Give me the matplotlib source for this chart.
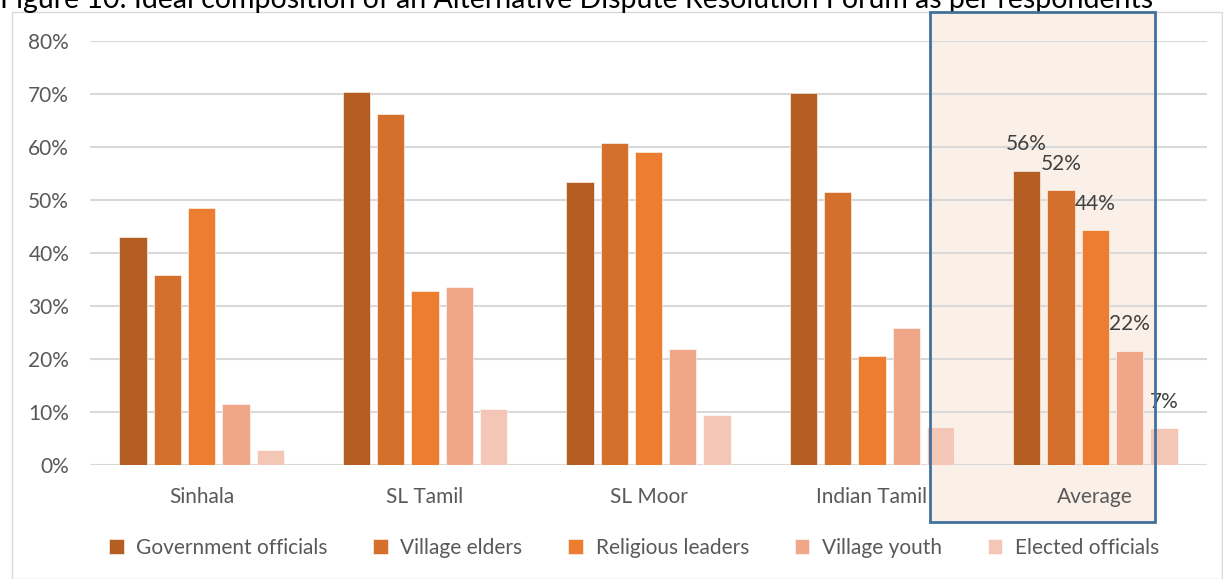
import matplotlib
matplotlib.use("Agg")
import matplotlib.pyplot as plt
import numpy as np
from matplotlib.patches import Rectangle

# data (share of respondents)
groups = ["Sinhala", "SL Tamil", "SL Moor", "Indian Tamil", "Average"]
series = ["Government officials", "Village elders", "Religious leaders",
          "Village youth", "Elected officials"]
gov_officials = [0.431, 0.704, 0.534, 0.702, 0.555]
village_elders = [0.358, 0.663, 0.608, 0.515, 0.518]
religious_leaders = [0.484, 0.329, 0.591, 0.206, 0.443]
village_youth = [0.116, 0.335, 0.219, 0.258, 0.215]
elected_officials = [0.029, 0.105, 0.094, 0.072, 0.069]
avg_labels = ["56%", "52%", "44%", "22%", "7%"]
yticks = [0, 0.1, 0.2, 0.3, 0.4, 0.5, 0.6, 0.7, 0.8]

values = [gov_officials, village_elders, religious_leaders, village_youth, elected_officials]
colors = ["#B55E23", "#D4702B", "#ED7D31", "#F0A688", "#F4C6B5"]
GREY = "#595959"
FONT = "Lato"
FS = 15

W, H = 1223, 579
fig = plt.figure(figsize=(W / 100, H / 100), dpi=100)
plt.rcParams["font.family"] = [FONT, "DejaVu Sans"]

# chart-area border
fig.patches.append(Rectangle((12 / W, 0), (W - 13) / W, 1 - 12 / H, transform=fig.transFigure,
                             fill=False, edgecolor="#D9D9D9", lw=1, zorder=-2))
# highlight box behind the "Average" group
bx0, bx1, by0, by1 = 930, 1155, 12, 522
fig.patches.append(Rectangle((bx0 / W, 1 - by1 / H), (bx1 - bx0) / W, (by1 - by0) / H,
                             transform=fig.transFigure, facecolor="#FBF0E8",
                             edgecolor="none", zorder=-1))
fig.patches.append(Rectangle((bx0 / W, 1 - by1 / H), (bx1 - bx0) / W, (by1 - by0) / H,
                             transform=fig.transFigure, fill=False,
                             edgecolor="#41719C", lw=2, zorder=5))

fig.text(0.0, 1 - 8 / H, "Figure 10: Ideal composition of an Alternative Dispute Resolution "
         "Forum as per respondents", fontsize=20.5, color="black", va="baseline", ha="left")

ax = fig.add_axes([90 / W, 1 - 465 / H, (1207 - 90) / W, (465 - 41) / H])
ax.set_facecolor("none")

x = np.arange(len(groups))
n = len(series)
pitch = 0.1535
bw = 0.122
for i, (name, vals) in enumerate(zip(series, values)):
    pos = x + (i - (n - 1) / 2) * pitch
    ax.bar(pos, vals, width=bw, color=colors[i], label=name, zorder=3,
           edgecolor="white", linewidth=0.4)
    ax.annotate(avg_labels[i], (pos[-1], vals[-1]), xytext=(0, 12), textcoords="offset points",
                ha="center", va="bottom", fontsize=FS, color="#404040", zorder=6)

ax.set_xlim(-0.5, len(groups) - 0.5)
ax.set_ylim(0, 0.8)
ax.set_yticks(yticks)
ax.set_yticklabels([f"{int(round(t * 100))}%" for t in yticks])
ax.set_xticks(x)
ax.set_xticklabels(groups)
ax.grid(axis="y", color="#D9D9D9", lw=1.5, zorder=0)
for s in ax.spines.values():
    s.set_visible(False)
ax.tick_params(axis="both", length=0, labelsize=FS, labelcolor=GREY)
ax.tick_params(axis="y", pad=15)
ax.tick_params(axis="x", pad=16)

fig.legend(loc="center", bbox_to_anchor=(634 / W, 1 - 548 / H), ncol=5, frameon=False,
           fontsize=FS, labelcolor=GREY, handlelength=0.7, handleheight=0.7,
           handletextpad=0.6, columnspacing=2.2)

fig.savefig("out.png", dpi=100)
